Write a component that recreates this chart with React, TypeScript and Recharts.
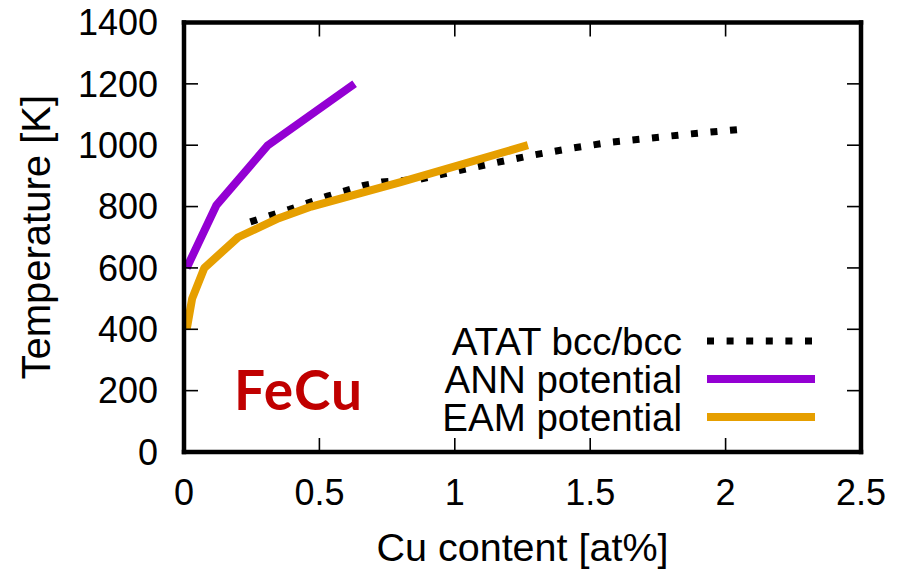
import React from 'react';
import { LineChart, Line, XAxis, YAxis, Legend } from 'recharts';

// ---- data ----
const xTicks = [0, 0.5, 1, 1.5, 2, 2.5];
const yTicks = [0, 200, 400, 600, 800, 1000, 1200, 1400];

const atatX = [0.245, 0.39, 0.53, 0.66, 0.73, 0.87, 1.01, 1.15, 1.29, 1.43, 1.57, 1.71, 1.86, 2.07];
const atatT = [750, 791, 834, 868, 880, 889, 916, 943, 968, 990, 1009, 1022, 1036, 1053];

const annX = [0.01, 0.12, 0.31, 0.63];
const annT = [600, 805, 1000, 1200];

const eamX = [0.01, 0.03, 0.075, 0.2, 0.35, 0.47, 0.8, 1.27];
const eamT = [400, 500, 600, 700, 762, 800, 880, 1000];

const seriesNames = ['ATAT bcc/bcc', 'ANN potential', 'EAM potential'];
const xLabel = 'Cu content [at%]';
const yLabel = 'Temperature [K]';
const annotation = 'FeCu';

const toRows = (xs: number[], ts: number[]) => xs.map((x, i) => ({ x, t: ts[i] }));
const atatData = toRows(atatX, atatT);
const annData = toRows(annX, annT);
const eamData = toRows(eamX, eamT);

const FONT = '"Liberation Sans", Arial, Helvetica, sans-serif';
const TICK_LEN = 14;

const fmt = (v: number) => String(v);

const BottomTick = (p: any) => {
  const { x, y, payload } = p;
  return (
    <g>
      <line x1={x} x2={x} y1={y} y2={y - TICK_LEN} stroke="#000" strokeWidth={1.6} />
      <text x={x} y={y + 53} textAnchor="middle" fontSize={36} fontFamily={FONT} fill="#000">
        {fmt(payload.value)}
      </text>
    </g>
  );
};

const TopTick = (p: any) => {
  const { x, y } = p;
  return <line x1={x} x2={x} y1={y} y2={y + TICK_LEN} stroke="#000" strokeWidth={1.6} />;
};

const LeftTick = (p: any) => {
  const { x, y, payload } = p;
  return (
    <g>
      <line x1={x} x2={x + TICK_LEN} y1={y} y2={y} stroke="#000" strokeWidth={1.6} />
      <text x={x - 26} y={y} dy="0.355em" textAnchor="end" fontSize={36} fontFamily={FONT} fill="#000">
        {fmt(payload.value)}
      </text>
    </g>
  );
};

const RightTick = (p: any) => {
  const { x, y } = p;
  return <line x1={x} x2={x - TICK_LEN} y1={y} y2={y} stroke="#000" strokeWidth={1.6} />;
};

const frameLine = { stroke: '#000', strokeWidth: 4.5, strokeLinecap: 'square' as const };

const XLabelContent = (props: any) => {
  const vb = props.viewBox || { x: 184, y: 452, width: 677, height: 117 };
  return (
    <text x={vb.x + vb.width / 2} y={vb.y + 109} textAnchor="middle" fontSize={39.5} fontFamily={FONT} fill="#000">
      {xLabel}
    </text>
  );
};

const YLabelContent = (props: any) => {
  const vb = props.viewBox || { x: 0, y: 22.5, width: 184, height: 429.5 };
  const cx = vb.x + 50;
  const cy = vb.y + vb.height / 2;
  return (
    <text transform={`translate(${cx},${cy}) rotate(-90)`} textAnchor="middle" fontSize={40} fontFamily={FONT} fill="#000">
      {yLabel}
    </text>
  );
};

const renderLegend = (props: any) => {
  const raw: any[] = props.payload ?? [];
  const payload = [...raw].sort((a, b) => seriesNames.indexOf(a.value) - seriesNames.indexOf(b.value));
  return (
    <svg width={460} height={125} style={{ overflow: 'visible', display: 'block' }}>
      {payload.map((e, i) => {
        const cy = 23 + i * 38;
        const dash = e.payload?.strokeDasharray;
        return (
          <g key={i}>
            <text x={302} y={cy} dy="0.36em" textAnchor="end" fontSize={38.5} fontFamily={FONT} fill="#000">
              {e.value}
            </text>
            <line x1={327} x2={435} y1={cy} y2={cy} stroke={e.color} strokeWidth={dash ? 7 : 8} strokeDasharray={dash} />
          </g>
        );
      })}
    </svg>
  );
};

export default function App() {
  return (
    <div style={{ position: 'absolute', left: 0, top: 0, width: 908, height: 569, background: '#fff' }}>
      <LineChart width={908} height={569} margin={{ top: 0, right: 0, bottom: 0, left: 0 }}>
        <XAxis
          xAxisId="b"
          dataKey="x"
          type="number"
          orientation="bottom"
          domain={[0, 2.5]}
          allowDataOverflow
          ticks={xTicks}
          interval={0}
          height={117}
          tickSize={0}
          tickMargin={0}
          tickLine={false}
          axisLine={frameLine}
          tick={<BottomTick />}
          label={{ content: XLabelContent }}
        />
        <XAxis
          xAxisId="t"
          dataKey="x"
          type="number"
          orientation="top"
          domain={[0, 2.5]}
          allowDataOverflow
          ticks={xTicks}
          interval={0}
          height={22.5}
          tickSize={0}
          tickMargin={0}
          tickLine={false}
          axisLine={frameLine}
          tick={<TopTick />}
        />
        <YAxis
          yAxisId="l"
          type="number"
          orientation="left"
          domain={[0, 1400]}
          allowDataOverflow
          ticks={yTicks}
          interval={0}
          width={184}
          tickSize={0}
          tickMargin={0}
          tickLine={false}
          axisLine={frameLine}
          tick={<LeftTick />}
          label={{ content: YLabelContent }}
        />
        <YAxis
          yAxisId="r"
          type="number"
          orientation="right"
          domain={[0, 1400]}
          allowDataOverflow
          ticks={yTicks}
          interval={0}
          width={47}
          tickSize={0}
          tickMargin={0}
          tickLine={false}
          axisLine={frameLine}
          tick={<RightTick />}
        />
        <Legend
          layout="vertical"
          align="center"
          verticalAlign="middle"
          itemSorter={null as any}
          content={renderLegend}
          wrapperStyle={{ left: 380, top: 318, width: 460, height: 125 }}
        />
        <Line
          xAxisId="b"
          yAxisId="l"
          data={atatData}
          dataKey="t"
          name={seriesNames[0]}
          stroke="#000"
          strokeWidth={7}
          strokeDasharray="7 12.6"
          strokeLinecap="butt"
          dot={false}
          activeDot={false}
          isAnimationActive={false}
        />
        <Line
          xAxisId="b"
          yAxisId="l"
          data={annData}
          dataKey="t"
          name={seriesNames[1]}
          stroke="#9400D3"
          strokeWidth={8}
          strokeLinejoin="round"
          dot={false}
          activeDot={false}
          isAnimationActive={false}
        />
        <Line
          xAxisId="b"
          yAxisId="l"
          data={eamData}
          dataKey="t"
          name={seriesNames[2]}
          stroke="#E69F00"
          strokeWidth={8}
          strokeLinejoin="round"
          dot={false}
          activeDot={false}
          isAnimationActive={false}
        />
      </LineChart>
      <svg width={908} height={569} style={{ position: 'absolute', left: 0, top: 0, pointerEvents: 'none' }}>
        <text x={234} y={410} fontSize={55} fontWeight={700} letterSpacing={1} fontFamily="Lato, 'Open Sans', sans-serif" fill="#C00000">
          {annotation}
        </text>
      </svg>
    </div>
  );
}
